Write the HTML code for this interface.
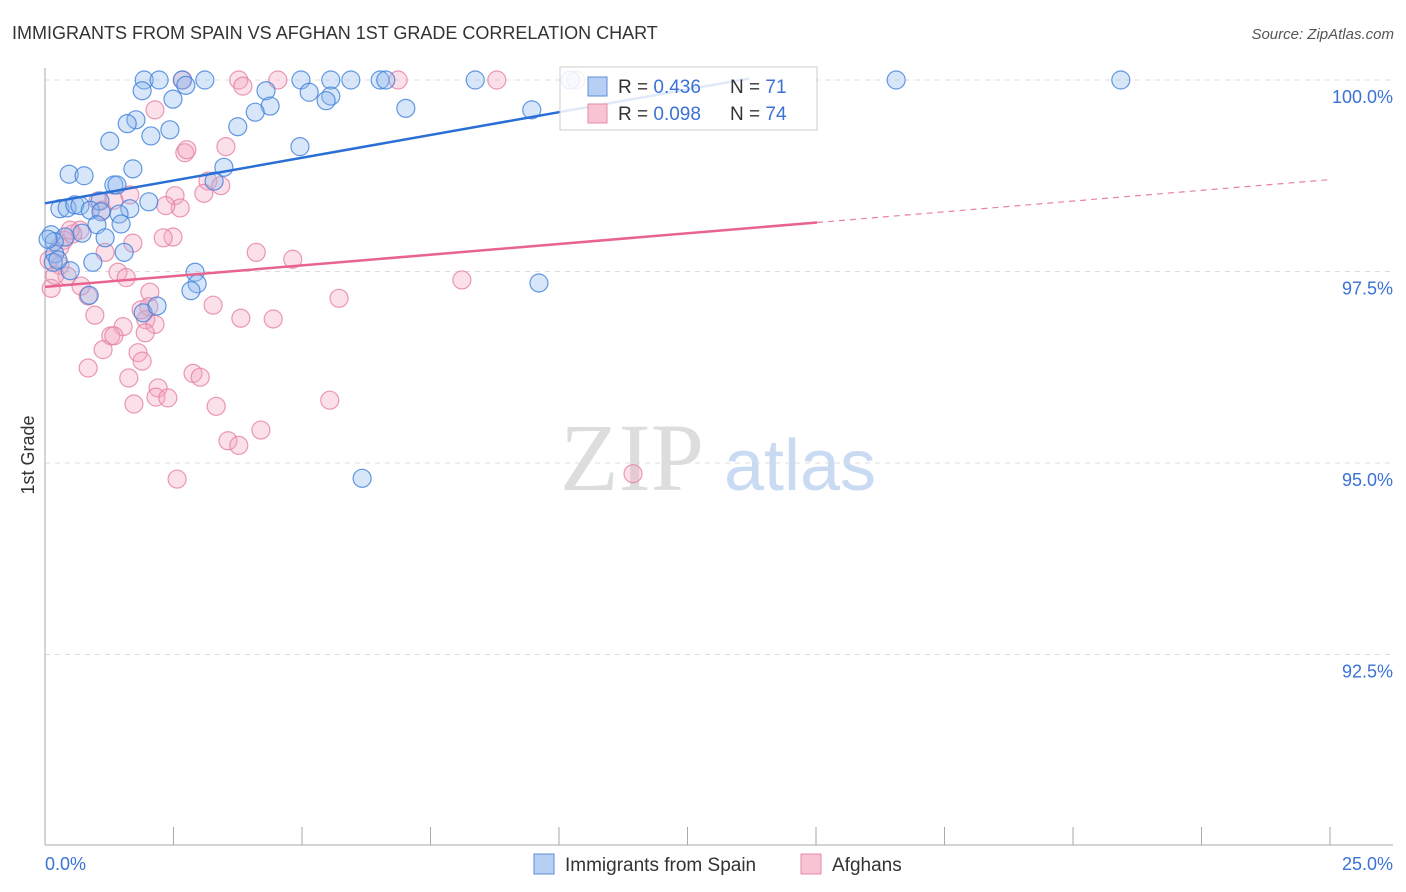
<!DOCTYPE html>
<html><head><meta charset="utf-8"><style>
body{margin:0;background:#fff;font-family:"Liberation Sans",sans-serif;}
svg{display:block}
</style></head><body>
<svg id="c" width="1406" height="892" xmlns="http://www.w3.org/2000/svg">
<text x="12" y="39" font-size="18" fill="#333">IMMIGRANTS FROM SPAIN VS AFGHAN 1ST GRADE CORRELATION CHART</text>
<text x="1394" y="39" font-size="15" fill="#555" font-style="italic" text-anchor="end">Source: ZipAtlas.com</text>
<text x="34" y="455" font-size="18" fill="#333" text-anchor="middle" transform="rotate(-90 34 455)">1st Grade</text>
<g><text x="632" y="490" font-size="96" fill="#ddd" font-family="Liberation Serif,serif" text-anchor="middle">ZIP</text><text x="800" y="490" font-size="72" fill="#c9daf3" text-anchor="middle">atlas</text></g>
<g id="grid"></g><g id="axes"></g><g id="pts"></g><g id="trend"></g>
<g>
<rect x="560" y="67" width="257" height="63" fill="#fff" fill-opacity="0.85" stroke="#ccc"/>
<rect x="588" y="77" width="19" height="19" fill="#b7cff3" stroke="#5b8fd8"/>
<rect x="588" y="104" width="19" height="19" fill="#f8c4d4" stroke="#e68aa9"/>
<text x="618" y="93" font-size="19" fill="#333">R = <tspan fill="#3a72d6">0.436</tspan><tspan x="730">N = </tspan><tspan fill="#3a72d6">71</tspan></text>
<text x="618" y="120" font-size="19" fill="#333">R = <tspan fill="#3a72d6">0.098</tspan><tspan x="730">N = </tspan><tspan fill="#3a72d6">74</tspan></text>
</g>
<g>
<rect x="534" y="854" width="20" height="20" fill="#b7cff3" stroke="#5b8fd8"/>
<text x="565" y="871" font-size="19" fill="#333">Immigrants from Spain</text>
<rect x="801" y="854" width="20" height="20" fill="#f8c4d4" stroke="#e68aa9"/>
<text x="832" y="871" font-size="19" fill="#333">Afghans</text>
</g>
</svg>
<script>
const xTicks=[0,2.5,5,7.5,10,12.5,15,17.5,20,22.5,25];
const yTicks=[100,97.5,95,92.5];
const yTickLabels=["100.0%","97.5%","95.0%","92.5%"];
const spainX=[1.93,2.22,2.67,3.11,4.98,5.56,5.95,6.52,6.63,8.37,10.22,16.56,20.93,1.89,2.74,2.49,4.30,5.14,5.56,5.47,4.38,4.09,7.02,9.47,1.77,1.60,2.43,2.06,3.75,1.26,4.96,3.48,1.71,0.47,0.76,1.34,1.40,3.29,2.02,1.07,0.29,0.43,0.58,0.68,0.88,1.65,1.44,1.09,1.48,1.01,0.12,0.72,0.39,0.18,1.17,1.54,0.19,0.16,0.93,0.49,2.92,2.96,2.84,0.86,1.91,2.18,9.61,6.17,0.06,0.25];
const spainY=[100,100,100,100,100,100,100,100,100,100,100,100,100,99.86,99.93,99.75,99.86,99.84,99.79,99.73,99.66,99.58,99.63,99.61,99.48,99.43,99.35,99.27,99.39,99.20,99.13,98.86,98.84,98.77,98.75,98.63,98.63,98.68,98.41,98.42,98.32,98.33,98.37,98.36,98.30,98.32,98.25,98.28,98.12,98.11,97.98,98.00,97.95,97.89,97.94,97.75,97.73,97.62,97.62,97.51,97.49,97.34,97.25,97.19,96.96,97.05,97.35,94.80,97.92,97.65];
const afgX=[2.68,3.77,4.53,6.87,8.79,10.33,2.14,3.85,2.72,2.76,3.52,3.17,3.42,3.09,2.53,2.63,2.35,1.65,1.03,1.11,0.68,0.54,0.37,1.34,1.71,2.49,2.30,4.11,4.82,8.11,5.72,1.17,0.08,0.29,0.43,1.42,1.58,2.04,0.84,0.12,0.70,2.02,1.96,3.27,3.81,4.44,0.97,1.52,1.28,1.34,1.13,1.81,1.89,0.84,2.88,3.02,1.63,2.20,2.16,2.39,1.73,3.33,5.54,3.56,3.77,4.20,2.57,11.44,2.14,1.87,0.29,0.49,1.95,0.19];
const afgY=[100,100,100,100,100,100,99.61,99.92,99.05,99.09,99.13,98.68,98.62,98.52,98.49,98.33,98.36,98.50,98.42,98.30,98.04,97.99,97.91,98.43,97.87,97.95,97.94,97.75,97.66,97.39,97.15,97.75,97.65,97.58,97.44,97.49,97.42,97.23,97.18,97.28,97.31,97.04,96.87,97.06,96.89,96.88,96.93,96.78,96.66,96.66,96.48,96.44,96.33,96.24,96.17,96.12,96.11,95.98,95.86,95.85,95.77,95.74,95.82,95.29,95.23,95.43,94.79,94.86,96.81,97.00,97.82,98.04,96.70,97.45];
const spainTrend=[[0,98.39],[13.7,100.02]];
const afgTrendSolid=[[0,97.30],[15.02,98.14]];
const afgTrendDash=[[15.02,98.14],[25,98.70]];
const NS="http://www.w3.org/2000/svg";
const X=v=>45+v*(1285/25);
const Y=v=>80+(100-v)*76.6;
function mk(t,a,p){const e=document.createElementNS(NS,t);for(const k in a)e.setAttribute(k,a[k]);document.getElementById(p).appendChild(e);return e;}
yTicks.forEach((t,i)=>{
 const l=mk('line',{x1:45,x2:1393,y1:Y(t),y2:Y(t),stroke:'#ddd','stroke-dasharray':'5,5'},'grid');
 
 
 const tx=mk('text',{x:1393,y:Y(t)+23,'font-size':18,fill:'#3a72d6','text-anchor':'end'},'grid');
 tx.textContent=yTickLabels[i];
 
 
});
let a=mk('line',{x1:45,x2:45,y1:68,y2:845,stroke:'#aaa'},'axes');


a=mk('line',{x1:45,x2:1393,y1:845,y2:845,stroke:'#aaa'},'axes');


xTicks.forEach(t=>{
 const l=mk('line',{x1:X(t),x2:X(t),y1:827,y2:845,stroke:'#aaa'},'axes');
 
 
});
[[0,'0.0%','start',45],[25,'25.0%','end',1393]].forEach(d=>{
 const t=mk('text',{x:d[3],y:870,'font-size':18,fill:'#3a72d6','text-anchor':d[2]},'axes');
 t.textContent=d[1];
 
 
});
function pts(xs,ys,fill,stroke,name){xs.forEach((x,i)=>{
 const c=mk('circle',{cx:X(x),cy:Y(ys[i]),r:9,fill:fill,'fill-opacity':0.35,stroke:stroke,'stroke-opacity':0.8,'stroke-width':1.2},'pts');
 
 
});}
pts(afgX,afgY,'#f4a6c0','#e57fa3','afghan-point');
pts(spainX,spainY,'#8fb6ee','#3f7fd9','spain-point');
function ln(p,col,dash,name){
 const l=mk('line',{x1:X(p[0][0]),y1:Y(p[0][1]),x2:X(p[1][0]),y2:Y(p[1][1]),stroke:col,'stroke-width':dash?1.2:2.5,'stroke-dasharray':dash?'6,5':'none'},'trend');
 
 
}
ln(spainTrend,'#2a6fd6',false,'spain-trend-line');
ln(afgTrendSolid,'#e8638f',false,'afghan-trend-line');
ln(afgTrendDash,'#e8839f',true,'afghan-trend-extension');
</script>
</body></html>
